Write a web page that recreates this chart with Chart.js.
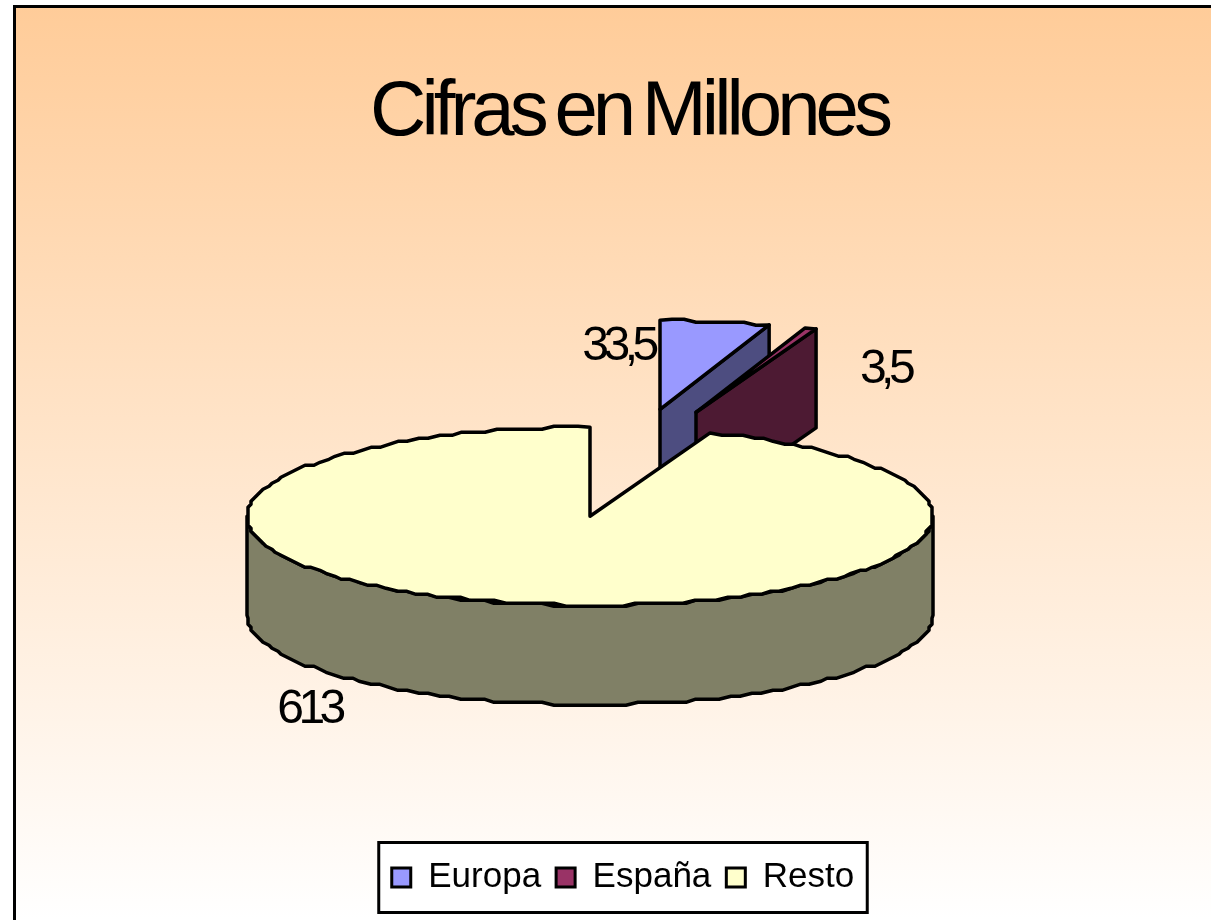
<!DOCTYPE html>
<html>
<head>
<meta charset="utf-8">
<title>Cifras en Millones</title>
<script src="https://cdn.jsdelivr.net/npm/chart.js@4/dist/chart.umd.min.js"></script>
<style>
  html, body { margin: 0; padding: 0; background: #fff; overflow: hidden; }
  canvas { display: block; }
</style>
</head>
<body>
<canvas id="pie" width="1211" height="920"></canvas>
<script>
const categories = ['Europa', 'España', 'Resto'];
const values = [33.5, 3.5, 613];
const valueLabels = ['33,5', '3,5', '613'];
const topColors = ['#9999ff', '#993366', '#ffffcc'];
const wallColors = ['#4d4d80', '#4d1a33', '#808066'];

// how the flat pie is laid down as a 3D disc
const fontName = '"Liberation Sans", Arial, sans-serif';
const tilt = 89 / 343;
const depth = 99;
const pieNudge = { x: -33, y: -3 };
// exploded slices are pulled away from the centre (px on screen)
const explode = [{ x: 70, y: -107 }, { x: 106, y: -104 }, { x: 0, y: 0 }];
// where each value label sits, relative to the slice tip
const labelShift = [{ x: -42, y: -63 }, { x: 189, y: -43 }, { x: -281, y: 193 }];

// the original is a low res metafile, so its curves come out stepped
function tracePoints(ctx, cx, cy, rx, ry, from, to) {
    const step = Math.PI / 90;
    const count = Math.max(1, Math.round(Math.abs(to - from) / step));
    for (let i = 0; i <= count; i++) {
        const a = from + (to - from) * i / count;
        let x = rx * Math.cos(a);
        let y = ry * Math.sin(a);
        if (i > 0 && i < count) {
            x = Math.round(x / 3) * 3;
            y = Math.round(y / 3) * 3;
        }
        ctx.lineTo(cx + x, cy + y);
    }
}

function shapeStyle(ctx, fill) {
    ctx.fillStyle = fill;
    ctx.strokeStyle = '#000';
    ctx.lineWidth = 3.5;
    ctx.lineJoin = 'round';
    ctx.fill();
    ctx.stroke();
}

const backdrop = {
    id: 'backdrop',
    beforeDraw(chart) {
        const { ctx, width, height } = chart;
        const grad = ctx.createLinearGradient(0, 6, 0, height);
        grad.addColorStop(0, '#ffcc99');
        grad.addColorStop(1, '#ffffff');
        ctx.save();
        ctx.fillStyle = grad;
        ctx.fillRect(14, 6, width, height);
        ctx.strokeStyle = '#000';
        ctx.lineWidth = 3;
        ctx.beginPath();
        ctx.moveTo(14.5, height);
        ctx.lineTo(14.5, 6.5);
        ctx.lineTo(width, 6.5);
        ctx.stroke();
        // frame round the legend
        const boxes = chart.legend.legendHitBoxes;
        const last = boxes[boxes.length - 1];
        const left = boxes[0].left - 13;
        const right = last.left + last.width + 13;
        const middle = boxes[0].top + boxes[0].height / 2;
        ctx.fillStyle = '#fff';
        ctx.beginPath();
        ctx.rect(left, middle - 35, right - left, 70);
        ctx.fill();
        ctx.stroke();
        ctx.restore();
    }
};

const disc = {
    id: 'disc',
    afterLayout(chart) {
        // the title is set much tighter than the legend
        const title = chart.titleBlock;
        if (title._tight) return;
        const draw = title.draw;
        title.draw = function () {
            chart.ctx.save();
            chart.ctx.translate(6, 0);
            chart.ctx.letterSpacing = '-5px';
            chart.ctx.wordSpacing = '-6px';
            draw.call(title);
            chart.ctx.restore();
        };
        title._tight = true;
    },
    beforeDatasetsDraw(chart) {
        const { ctx } = chart;
        const arcs = chart.getDatasetMeta(0).data;
        ctx.save();
        arcs.forEach((arc, i) => {
            const rx = arc.outerRadius;
            const ry = rx * tilt;
            const cx = arc.x + pieNudge.x + explode[i].x;
            const cy = arc.y + pieNudge.y + explode[i].y;
            const fill = arc.options.backgroundColor;

            if (i < arcs.length - 1) {
                // exploded slice: only its cut side shows
                const ex = cx + rx * Math.cos(arc.endAngle);
                const ey = cy + ry * Math.sin(arc.endAngle);
                ctx.beginPath();
                ctx.moveTo(cx, cy);
                ctx.lineTo(ex, ey);
                ctx.lineTo(ex, ey + depth);
                ctx.lineTo(cx, cy + depth);
                ctx.closePath();
                shapeStyle(ctx, wallColors[i]);
            } else {
                // front rim of the big slice
                ctx.beginPath();
                tracePoints(ctx, cx, cy, rx, ry, 0, Math.PI);
                tracePoints(ctx, cx, cy + depth, rx, ry, Math.PI, 0);
                ctx.closePath();
                shapeStyle(ctx, wallColors[i]);
            }

            ctx.beginPath();
            ctx.moveTo(cx, cy);
            tracePoints(ctx, cx, cy, rx, ry, arc.startAngle, arc.endAngle);
            ctx.closePath();
            shapeStyle(ctx, fill);
        });

        ctx.fillStyle = '#000';
        ctx.font = '48px ' + fontName;
        ctx.letterSpacing = '-5.5px';
        ctx.textAlign = 'center';
        ctx.textBaseline = 'middle';
        arcs.forEach((arc, i) => {
            const x = arc.x + pieNudge.x + explode[i].x + labelShift[i].x;
            const y = arc.y + pieNudge.y + explode[i].y + labelShift[i].y;
            ctx.fillText(valueLabels[i], x, y);
        });
        ctx.restore();
        return false;
    }
};

new Chart(document.getElementById('pie'), {
    type: 'pie',
    data: {
        labels: categories,
        datasets: [{
            data: values,
            backgroundColor: topColors,
            borderColor: '#000',
            borderWidth: 3
        }]
    },
    options: {
        responsive: false,
        animation: false,
        events: [],
        radius: 343,
        layout: { padding: { left: 35, bottom: 15 } },
        plugins: {
            tooltip: { enabled: false },
            title: {
                display: true,
                text: 'Cifras en Millones',
                color: '#000',
                font: { family: fontName, size: 78, weight: 'normal' },
                padding: { top: 67, bottom: 33 }
            },
            legend: {
                position: 'bottom',
                labels: {
                    color: '#000',
                    font: { family: fontName, size: 35 },
                    boxWidth: 19,
                    boxHeight: 19,
                    padding: 15
                }
            }
        }
    },
    plugins: [backdrop, disc]
});
</script>
</body>
</html>
